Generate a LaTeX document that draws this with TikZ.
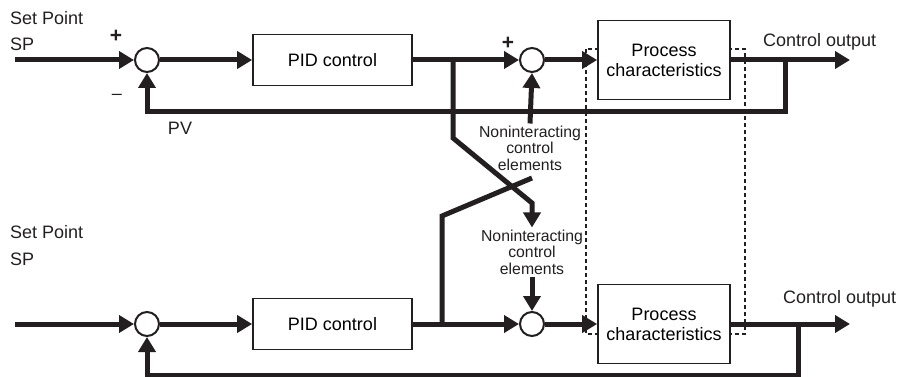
\documentclass[tikz,border=0pt]{standalone}
\usepackage{fontspec}
\setmainfont{Liberation Sans}
\usetikzlibrary{arrows.meta}
\definecolor{diagink}{HTML}{231F20}
\newcommand\mainlbl{\fontsize{18}{20}\selectfont}
\newcommand\smalllbl{\fontsize{15.8}{16.5}\selectfont}
\tikzset{
  block/.style={draw=diagink,fill=white,line width=1.7pt,align=center,
    font=\mainlbl,inner sep=2pt},
  pid block/.style={block,minimum width=159pt,minimum height=51pt},
  plant block/.style={block,minimum width=132pt,minimum height=79pt},
  sum/.style={circle,draw=diagink,fill=white,line width=2pt,
    minimum size=24pt,inner sep=0pt},
  signal/.style={draw=diagink,line width=5pt},
  flow/.style={signal,-{Triangle[length=15pt,width=17pt]}},
  frame/.style={draw=diagink,dashed,line width=1.5pt,dash pattern=on 4pt off 3pt},
  lbl/.style={text=diagink,font=\mainlbl,inner sep=2pt},
  sign/.style={text=diagink,font=\fontsize{21}{21}\selectfont\bfseries,inner sep=1pt},
  note/.style={text=diagink,font=\smalllbl,align=center,inner sep=2pt}
}
\begin{document}
\begin{tikzpicture}[x=1pt,y=-1pt]
  \useasboundingbox (0,0) rectangle (897,377);
  % dashed frame round both plants
  \draw[frame] (586,49) rectangle (745,334);

  % upper loop
  \coordinate (in1) at (15,60);
  \coordinate (br1) at (453,60);
  \coordinate (tap1) at (785,60);
  \coordinate (fb1) at (785,112);
  \coordinate (out1) at (850,60);
  \node[sum] (sum1) at (147,60) {};
  \node[pid block] (pid1) at (332.5,60) {PID control};
  \node[sum] (sum2) at (532,60) {};
  \node[plant block] (proc1) at (664,60) {Process\\characteristics};
  \node[note] (nie1) at (530,148) {Noninteracting\\control\\elements};

  % lower loop
  \coordinate (in2) at (15,324);
  \coordinate (br2) at (442,324);
  \coordinate (tap2) at (798,324);
  \coordinate (fb2) at (798,375);
  \coordinate (out2) at (850,324);
  \node[sum] (sum3) at (147,324) {};
  \node[pid block] (pid2) at (332.5,324) {PID control};
  \node[sum] (sum4) at (532,324) {};
  \node[plant block] (proc2) at (664,324) {Process\\characteristics};
  \node[note] (nie2) at (532,252) {Noninteracting\\control\\elements};

  % crossing links
  \coordinate (k1) at (453,138);
  \coordinate (k2) at (532,203);
  \coordinate (k3) at (442,216);
  \coordinate (k4) at (532,178);

  % texts
  \node[lbl,anchor=west] (setpt1) at (8,18) {Set Point};
  \node[lbl,anchor=west] (sp1) at (8,44) {SP};
  \node[sign] (plus1) at (116,36) {+};
  \node[lbl] (minus1) at (117,97) {--};
  \node[lbl] (pv1) at (180,128) {PV};
  \node[sign] (plus2) at (508,43) {+};
  \node[lbl,anchor=west] (co1) at (761,42) {Control output};
  \node[lbl,anchor=west] (setpt2) at (8,232) {Set Point};
  \node[lbl,anchor=west] (sp2) at (8,259) {SP};
  \node[lbl,anchor=west] (co2) at (781,299) {Control output};

  % upper signals
  \draw[flow] (in1) -- (sum1.west);
  \draw[flow] (sum1.east) -- (pid1.west);
  \draw[flow] (pid1.east) -- (sum2.west);
  \draw[flow] (sum2.east) -- (proc1.west);
  \draw[flow] (proc1.east) -- (out1);
  \draw[flow] (tap1) -- (fb1) -| (sum1.south);
  \draw[flow] (nie1.north) -- (sum2.south);

  % lower signals
  \draw[flow] (in2) -- (sum3.west);
  \draw[flow] (sum3.east) -- (pid2.west);
  \draw[flow] (pid2.east) -- (sum4.west);
  \draw[flow] (sum4.east) -- (proc2.west);
  \draw[flow] (proc2.east) -- (out2);
  \draw[flow] (tap2) -- (fb2) -| (sum3.south);
  \draw[flow] (nie2.south) -- (sum4.north);

  % cross coupling
  \draw[flow] (br1) -- (k1) -- (k2) -- (nie2.north);
  \draw[signal] (br2) -- (k3) -- (k4);
\end{tikzpicture}
\end{document}
